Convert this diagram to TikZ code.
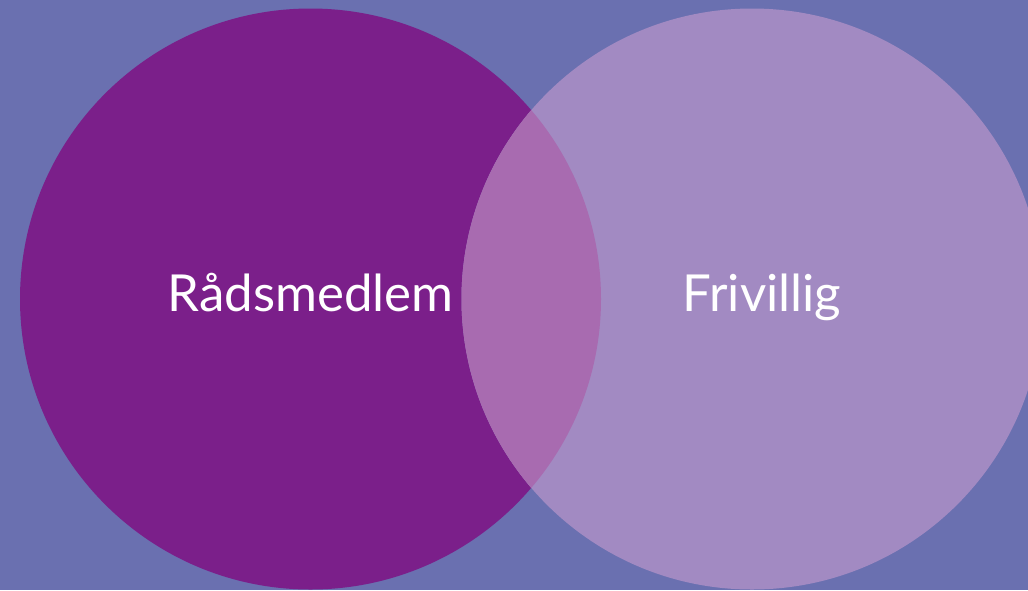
\documentclass[tikz,border=0pt]{standalone}
\usepackage{fontspec}
\setmainfont{Lato}
\definecolor{bgc}{HTML}{6A70B0}
\definecolor{leftc}{HTML}{7B1F8A}
\definecolor{rightc}{HTML}{A28AC2}
\definecolor{overc}{HTML}{A86BB0}
\begin{document}
\begin{tikzpicture}[x=1pt,y=-1pt,
  lbl/.style={text=white,font=\fontsize{51}{58}\selectfont,anchor=base,inner sep=0pt}]
\fill[bgc] (0,0) rectangle (1028,590);
\useasboundingbox (0,0) rectangle (1028,590);
\fill[leftc] (310.5,299) circle (290.5);
\fill[rightc] (752,299) circle (290.5);
\begin{scope}
  \clip (310.5,299) circle (290.5);
  \fill[overc] (752,299) circle (290.5);
\end{scope}
\node[lbl] (a) at (310.5,311) {Rådsmedlem};
\node[lbl] (b) at (762,311) {Frivillig};
\end{tikzpicture}
\end{document}
